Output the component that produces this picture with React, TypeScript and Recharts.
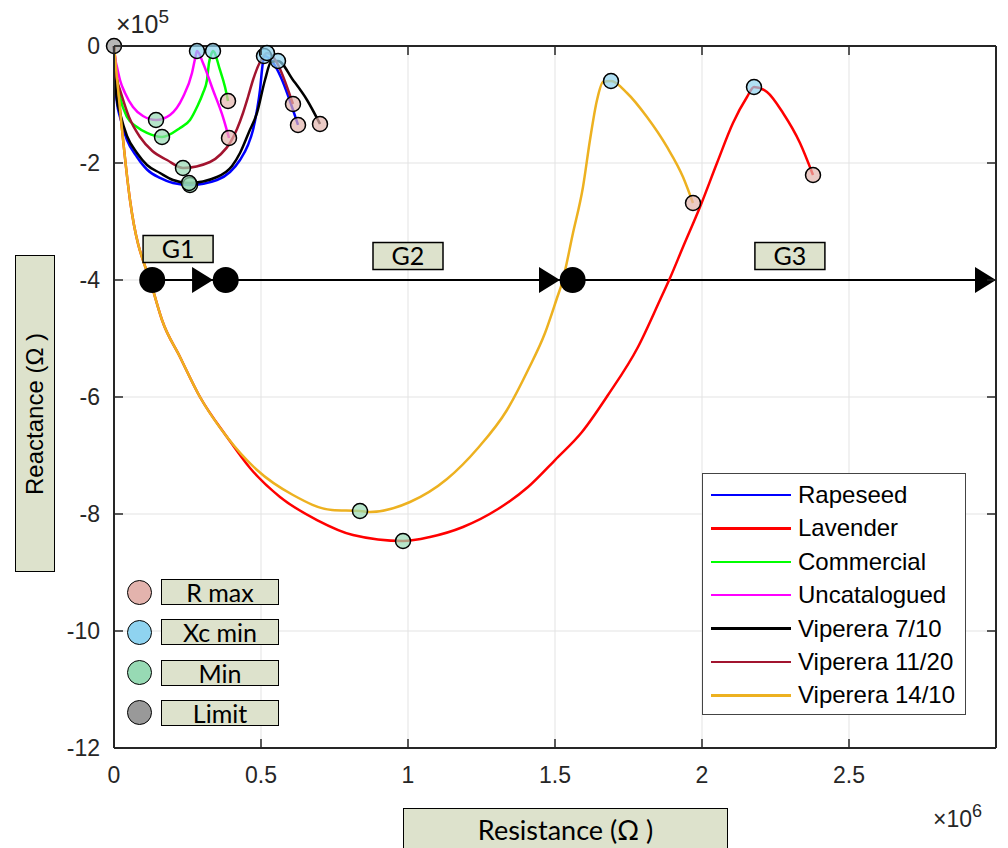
import React from 'react';
import { ComposedChart, Line, Scatter, XAxis, YAxis, CartesianGrid, ReferenceLine } from 'recharts';

type P = { x: number; y: number; label?: string };
const pts = (a: number[][]): P[] => a.map(([x, y]) => ({ x, y }));

// ---------- data (Resistance Ω, Reactance Ω) ----------
const rapeseed = pts([
  [0, 0], [3400, -58100], [10200, -97400], [20400, -121400], [44200, -160700], [78200, -189700],
  [112200, -211100], [156500, -225600], [200700, -234200], [258500, -237600], [350300, -229100],
  [394600, -215400], [428600, -194900], [455800, -169200], [472800, -143600], [486400, -109400],
  [496600, -75200], [503400, -41000], [510200, -17100], [625900, -135000],
]);
const lavender = pts([
  [0, 0], [54400, -263200], [132700, -417100], [163300, -468400], [224500, -531600], [292500, -600000],
  [384400, -668400], [462600, -721400], [564600, -770900], [690500, -810300], [812900, -835900], [983000, -846200],
  [1074800, -839300], [1187100, -822200], [1306100, -791500], [1408200, -753800], [1500000, -707700],
  [1591800, -659800], [1680300, -596600], [1782300, -514500], [1857100, -434200], [1891200, -396600],
  [1935400, -343600], [1993200, -275200], [2051000, -200000], [2105400, -131600], [2153100, -87200],
  [2176900, -70100], [2221100, -78600], [2275500, -114500], [2333300, -165800], [2377600, -220500],
]);
const commercial = pts([
  [0, 0], [3400, -29100], [10200, -58100], [20400, -87200], [44200, -121400], [78200, -138500],
  [112200, -148700], [163300, -155600], [224500, -140200], [258500, -126500], [282300, -104300],
  [302700, -80300], [316300, -58100], [323100, -29100], [329900, -15400], [336700, -8500],
  [360500, -41000], [377600, -70100], [387800, -94000],
]);
const uncatalogued = pts([
  [0, 0], [3400, -18800], [10200, -35900], [20400, -58100], [37400, -80300], [64600, -104300],
  [98600, -119700], [142900, -126500], [190500, -117900], [234700, -87200], [265300, -46200],
  [275500, -22200], [282300, -8500], [302700, -29100], [336700, -75200], [370700, -121400], [391200, -157300],
]);
const viperera710 = pts([
  [0, 0], [3400, -54700], [10200, -92300], [20400, -114500], [44200, -153800], [78200, -182900],
  [112200, -203400], [156500, -217100], [200700, -229100], [255100, -234200], [350300, -223900],
  [401400, -205100], [428600, -182900], [459200, -147000], [486400, -114500], [513600, -58100],
  [534000, -27400], [557800, -25600], [608800, -58100], [656500, -92300], [700700, -133300],
]);
const viperera1120 = pts([
  [0, 0], [3400, -35900], [10200, -58100], [20400, -75200], [51000, -121400], [88400, -155600],
  [130400, -179500], [180300, -194900], [234700, -208500], [326500, -198300], [363900, -184600],
  [394600, -165800], [418400, -141900], [438800, -114500], [455800, -87200], [472800, -58100],
  [496600, -27400], [520400, -12000], [608800, -99100],
]);
const viperera1410 = pts([
  [0, 0], [54400, -263200], [132700, -417100], [163300, -468400], [224500, -531600], [292500, -600000],
  [384400, -668400], [486400, -724800], [608800, -767500], [741500, -793200], [836700, -794900],
  [870700, -796600], [1006800, -779500], [1132700, -740200], [1238100, -687200], [1336700, -622200],
  [1408200, -553800], [1466000, -490600], [1506800, -430800], [1523800, -405100], [1561200, -319700],
  [1595200, -241000], [1619000, -160700], [1642900, -92300], [1663300, -61500], [1690500, -59800],
  [1744900, -80300], [1812900, -121400], [1881000, -172600], [1935400, -223900], [1969400, -268400],
]);

const seriesNames = ['Rapeseed', 'Lavender', 'Commercial', 'Uncatalogued', 'Viperera 7/10', 'Viperera 11/20', 'Viperera 14/10'];
const seriesColors = ['#0000ff', '#ff0000', '#00ff00', '#ff00ff', '#000000', '#a2142f', '#edb120'];
const seriesData = [rapeseed, lavender, commercial, uncatalogued, viperera710, viperera1120, viperera1410];

const limitPoints = pts([[0, 0]]);
const minPoints = pts([[258500, -237600], [983000, -846200], [163300, -155600], [142900, -126500], [255100, -234200], [234700, -208500], [836700, -794900]]);
const xcMinPoints = pts([[510200, -17100], [2176900, -70100], [336700, -8500], [282300, -8500], [557800, -25600], [520400, -12000], [1690500, -59800]]);
const rMaxPoints = pts([[625900, -135000], [2377600, -220500], [387800, -94000], [391200, -157300], [700700, -133300], [608800, -99100], [1969400, -268400]]);

const markerNames = ['R max', 'Xc min', 'Min', 'Limit'];
const markerColors = ['#e3b3ad', '#8fd3f0', '#97dab4', '#999999'];

const gLine = pts([[130000, -400000], [3000000, -400000]]);
const gDots = pts([[130000, -400000], [380000, -400000], [1560000, -400000]]);
const gArrowTips = pts([[337000, -400000], [1517000, -400000], [3000000, -400000]]);
const gLabels: P[] = [
  { x: 218000, y: -347000, label: 'G1' },
  { x: 1000000, y: -359000, label: 'G2' },
  { x: 2299000, y: -359000, label: 'G3' },
];

const xTicks = [0, 500000, 1000000, 1500000, 2000000, 2500000];
const xTickLabels = ['0', '0.5', '1', '1.5', '2', '2.5'];
const yTicks = [-1200000, -1000000, -800000, -600000, -400000, -200000, 0];
const yTickLabels = ['-12', '-10', '-8', '-6', '-4', '-2', '0'];

// ---------- layout ----------
const W = 1008, H = 848;
const PL = 114, PR = 996, PT = 46, PB = 748;
const AX = '#262626';
const ARIAL = '"Liberation Sans", Arial, Helvetica, sans-serif';
const CAL = 'Lato, "Open Sans", sans-serif';
const BOXFILL = '#dde2cc';

const XTick = (props: any) => {
  const { x, payload } = props;
  const i = xTicks.indexOf(payload.value);
  return (
    <g>
      <line x1={x} x2={x} y1={PB} y2={PB - 9} stroke={AX} strokeWidth={1.5} />
      <line x1={x} x2={x} y1={PT} y2={PT + 9} stroke={AX} strokeWidth={1.5} />
      <text x={x} y={PB + 35} textAnchor="middle" fontSize={23} fontFamily={ARIAL} fill={AX}>{xTickLabels[i]}</text>
    </g>
  );
};
const YTick = (props: any) => {
  const { y, payload } = props;
  const i = yTicks.indexOf(payload.value);
  return (
    <g>
      <line x1={PL} x2={PL + 9} y1={y} y2={y} stroke={AX} strokeWidth={1.5} />
      <line x1={PR} x2={PR - 9} y1={y} y2={y} stroke={AX} strokeWidth={1.5} />
      <text x={PL - 14} y={y + 8} textAnchor="end" fontSize={23} fontFamily={ARIAL} fill={AX}>{yTickLabels[i]}</text>
    </g>
  );
};

const markerShape = (fill: string) => (props: any) => (
  <circle cx={props.cx} cy={props.cy} r={7.5} fill={fill} fillOpacity={0.7} stroke="#000" strokeWidth={1.5} />
);
const dotShape = (props: any) => <circle cx={props.cx} cy={props.cy} r={13} fill="#000" />;
const arrowShape = (props: any) => (
  <polygon points={`${props.cx},${props.cy} ${props.cx - 21},${props.cy - 13} ${props.cx - 21},${props.cy + 13}`} fill="#000" />
);
const labelShape = (props: any) => (
  <g>
    <rect x={props.cx - 35} y={props.cy - 13.5} width={70} height={27} fill={BOXFILL} stroke="#000" strokeWidth={1.5} />
    <text x={props.cx} y={props.cy + 9} textAnchor="middle" fontSize={25} fontFamily={CAL} fill="#000">{props.payload.label}</text>
  </g>
);

export default function App() {
  return (
    <div style={{ position: 'absolute', left: 0, top: 0, width: W, height: H, background: '#fff', overflow: 'hidden' }}>
      <ComposedChart width={W} height={H} margin={{ top: PT, right: W - PR, left: 44, bottom: H - PB - 40 }}>
        <CartesianGrid stroke="#e3e3e3" strokeWidth={1} />
        <XAxis type="number" dataKey="x" domain={[0, 3000000]} ticks={xTicks} tick={<XTick />} tickLine={false}
          axisLine={{ stroke: AX, strokeWidth: 2 }} height={40} interval={0} />
        <YAxis type="number" dataKey="y" domain={[-1200000, 0]} ticks={yTicks} tick={<YTick />} tickLine={false}
          axisLine={{ stroke: AX, strokeWidth: 2 }} width={70} interval={0} />
        <ReferenceLine y={0} stroke={AX} strokeWidth={2} />
        <ReferenceLine x={3000000} stroke={AX} strokeWidth={2} />
        <Line data={gLine} dataKey="y" stroke="#000" strokeWidth={2} dot={false} activeDot={false} isAnimationActive={false} type="linear" />
        <Scatter data={gDots} dataKey="y" shape={dotShape} isAnimationActive={false} />
        <Scatter data={gArrowTips} dataKey="y" shape={arrowShape} isAnimationActive={false} />
        <Scatter data={gLabels} dataKey="y" shape={labelShape} isAnimationActive={false} />
        {seriesData.map((d, i) => (
          <Line key={seriesNames[i]} name={seriesNames[i]} data={d} dataKey="y" stroke={seriesColors[i]} strokeWidth={2.5}
            type="monotone" dot={false} activeDot={false} isAnimationActive={false} />
        ))}
        <Scatter data={minPoints} dataKey="y" shape={markerShape(markerColors[2])} isAnimationActive={false} />
        <Scatter data={xcMinPoints} dataKey="y" shape={markerShape(markerColors[1])} isAnimationActive={false} />
        <Scatter data={rMaxPoints} dataKey="y" shape={markerShape(markerColors[0])} isAnimationActive={false} />
        <Scatter data={limitPoints} dataKey="y" shape={markerShape(markerColors[3])} isAnimationActive={false} />
      </ComposedChart>

      {/* exponent labels */}
      <div style={{ position: 'absolute', left: 116, top: 12, fontFamily: ARIAL, fontSize: 25, color: AX, whiteSpace: 'nowrap', lineHeight: 1 }}>
        ×10<span style={{ fontSize: 19, position: 'relative', top: -10 }}>5</span>
      </div>
      <div style={{ position: 'absolute', left: 933, top: 808, fontFamily: ARIAL, fontSize: 23, color: AX, whiteSpace: 'nowrap', lineHeight: 1 }}>
        ×10<span style={{ fontSize: 18, position: 'relative', top: -10 }}>6</span>
      </div>

      {/* axis titles */}
      <div style={{ position: 'absolute', left: 15, top: 255, width: 40, height: 317, background: BOXFILL, border: '1.5px solid #000', boxSizing: 'border-box' }}>
        <div style={{ position: 'absolute', left: '50%', top: '50%', transform: 'translate(-50%,-50%) rotate(-90deg)', fontFamily: ARIAL, fontSize: 24, whiteSpace: 'nowrap', color: '#000' }}>
          Reactance (Ω )
        </div>
      </div>
      <div style={{ position: 'absolute', left: 403, top: 808, width: 325, height: 42, background: BOXFILL, border: '1.5px solid #000', boxSizing: 'border-box',
        display: 'flex', alignItems: 'center', justifyContent: 'center', fontFamily: CAL, fontSize: 27, color: '#000' }}>
        Resistance (Ω )
      </div>

      {/* series legend */}
      <div style={{ position: 'absolute', left: 702, top: 473, width: 264, height: 242, background: '#fff', border: '1.5px solid #444', boxSizing: 'border-box' }}>
        {seriesNames.map((n, i) => (
          <div key={n} style={{ position: 'absolute', left: 0, top: 6 + i * 33.4, height: 30, display: 'flex', alignItems: 'center' }}>
            <div style={{ width: 80, height: 2.5, background: seriesColors[i], marginLeft: 8 }} />
            <span style={{ marginLeft: 7, fontFamily: ARIAL, fontSize: 24, color: '#000', whiteSpace: 'nowrap' }}>{n}</span>
          </div>
        ))}
      </div>

      {/* marker legend */}
      {markerNames.map((n, i) => (
        <div key={n} style={{ position: 'absolute', left: 127, top: 578 + i * 40.3, height: 28, display: 'flex', alignItems: 'center' }}>
          <div style={{ width: 25, height: 25, borderRadius: '50%', background: markerColors[i], border: '1.5px solid #000', boxSizing: 'border-box' }} />
          <div style={{ marginLeft: 9, width: 118, height: 26, background: BOXFILL, border: '1.5px solid #000', boxSizing: 'border-box',
            display: 'flex', alignItems: 'center', justifyContent: 'center', fontFamily: CAL, fontSize: 25, color: '#000' }}>{n}</div>
        </div>
      ))}
    </div>
  );
}
